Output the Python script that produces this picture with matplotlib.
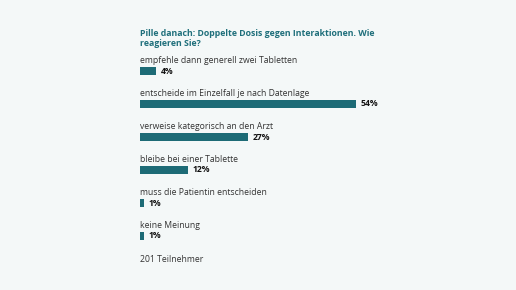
import matplotlib.pyplot as plt

answers = ['empfehle dann generell zwei Tabletten',
           'entscheide im Einzelfall je nach Datenlage',
           'verweise kategorisch an den Arzt',
           'bleibe bei einer Tablette',
           'muss die Patientin entscheiden',
           'keine Meinung']
percent = [4, 54, 27, 12, 1, 1]
title = 'Pille danach: Doppelte Dosis gegen Interaktionen. Wie\nreagieren Sie?'
footer = '201 Teilnehmer'

bg = '#f4f8f8'
teal = '#1d6b76'
plt.rcParams['font.family'] = ['Open Sans', 'DejaVu Sans']

W, H = 516, 290
fig = plt.figure(figsize=(W / 100, H / 100), dpi=100, facecolor=bg)
# axes: x from 140px, 4px per percent; rows 33px apart, first bar centre at y=71px
ax = fig.add_axes([140 / W, 1 - 252.5 / H, 376 / W, 198 / H])
ax.set_facecolor(bg)
pos = list(range(len(answers)))
ax.barh(pos, percent, height=0.26, color=teal)
ax.set_xlim(0, 94)
ax.set_ylim(5.5, -0.5)
ax.axis('off')

for i, (lab, v) in enumerate(zip(answers, percent)):
    ax.text(0, i - 0.31, lab, fontsize=6.2, color='#333333', va='center', ha='left')
    ax.annotate(f'{v}%', (v, i), xytext=(3.5, 0), textcoords='offset points',
                fontsize=6.2, fontweight='bold', color='#111111', va='center', ha='left')

fig.text(140 / W, 1 - 28.5 / H, title, fontsize=6.3, fontweight='bold', color='#1f6f7b',
         va='top', ha='left', linespacing=1.25)
fig.text(140 / W, 1 - 259 / H, footer, fontsize=6.2, color='#333333', va='center', ha='left')

fig.savefig('out.png', dpi=100, facecolor=bg)
